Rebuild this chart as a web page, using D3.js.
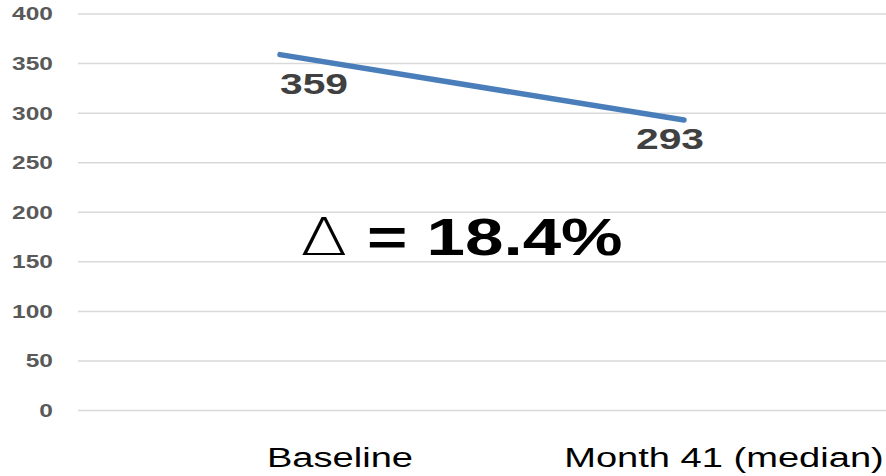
<!DOCTYPE html>
<html>
<head>
<meta charset="utf-8">
<script src="https://cdn.jsdelivr.net/npm/d3@7"></script>
<style>
  html, body { margin: 0; padding: 0; background: #fff; }
  svg { display: block; }
  text { font-family: "Liberation Sans", Arial, sans-serif; }
</style>
</head>
<body>
<svg id="chart" width="886" height="476"></svg>
<script>
// Chart data
const categories = ["Baseline", "Month 41 (median)"];
const values = [359, 293];
const yTicks = [0, 50, 100, 150, 200, 250, 300, 350, 400];

const W = 886, H = 476;
const plot = { left: 78, right: 886, top: 14, bottom: 410.5 };
// Text in this layout is drawn horizontally widened
const STRETCH = 1.36;

const svg = d3.select("#chart");

const x = d3.scaleBand().domain(categories).range([plot.left, plot.right]);
const y = d3.scaleLinear().domain([0, 400]).range([plot.bottom, plot.top]);
const cx = c => x(c) + x.bandwidth() / 2;

function widen(sel, k = STRETCH) {
  sel.each(function () {
    const len = this.getComputedTextLength();
    d3.select(this).attr("textLength", len * k).attr("lengthAdjust", "spacingAndGlyphs");
  });
}

// Horizontal gridlines
svg.append("g").selectAll("line").data(yTicks).join("line")
  .attr("x1", plot.left).attr("x2", plot.right)
  .attr("y1", d => y(d)).attr("y2", d => y(d))
  .attr("stroke", "#d9d9d9").attr("stroke-width", 1.5);

// Y tick labels
svg.append("g").selectAll("text").data(yTicks).join("text")
  .attr("x", 53).attr("y", d => y(d)).attr("dy", "0.36em")
  .attr("text-anchor", "end")
  .attr("font-size", 18).attr("font-weight", "bold").attr("fill", "#595959")
  .text(d => d)
  .call(widen);

// Series line
const pts = categories.map((c, i) => ({ c, v: values[i] }));
svg.append("path").datum(pts)
  .attr("d", d3.line().x(d => cx(d.c)).y(d => y(d.v)))
  .attr("fill", "none").attr("stroke", "#4a7ebb")
  .attr("stroke-width", 5.5).attr("stroke-linecap", "round");

// Value labels beneath the points
const labelOffset = [{ dx: 34, dy: 39.5 }, { dx: -14, dy: 29 }];
svg.append("g").selectAll("text").data(pts).join("text")
  .attr("x", (d, i) => cx(d.c) + labelOffset[i].dx)
  .attr("y", (d, i) => y(d.v) + labelOffset[i].dy)
  .attr("text-anchor", "middle")
  .attr("font-size", 30).attr("font-weight", "bold").attr("fill", "#404040")
  .text(d => d.v)
  .call(widen);

// Category labels
const catOffset = [60, 40];
svg.append("g").selectAll("text").data(categories).join("text")
  .attr("x", (d, i) => cx(d) + catOffset[i])
  .attr("y", 467)
  .attr("text-anchor", "middle")
  .attr("font-size", 27).attr("fill", "#000")
  .text(d => d)
  .call(widen, 1.41);

// Relative change annotation
const pct = ((values[0] - values[1]) / values[0] * 100).toFixed(1);
const delta = svg.append("text")
  .attr("x", (plot.left + plot.right) / 2 - 20.5)
  .attr("y", y(157))
  .attr("text-anchor", "middle")
  .attr("font-size", 52).attr("fill", "#000");
delta.append("tspan")
  .style("font-family", "'DejaVu Sans', sans-serif")
  .attr("font-weight", 200).text("\u0394");
delta.append("tspan").attr("font-weight", "bold").text(" = " + pct + "%");
delta.call(widen, 1.33);
</script>
</body>
</html>
